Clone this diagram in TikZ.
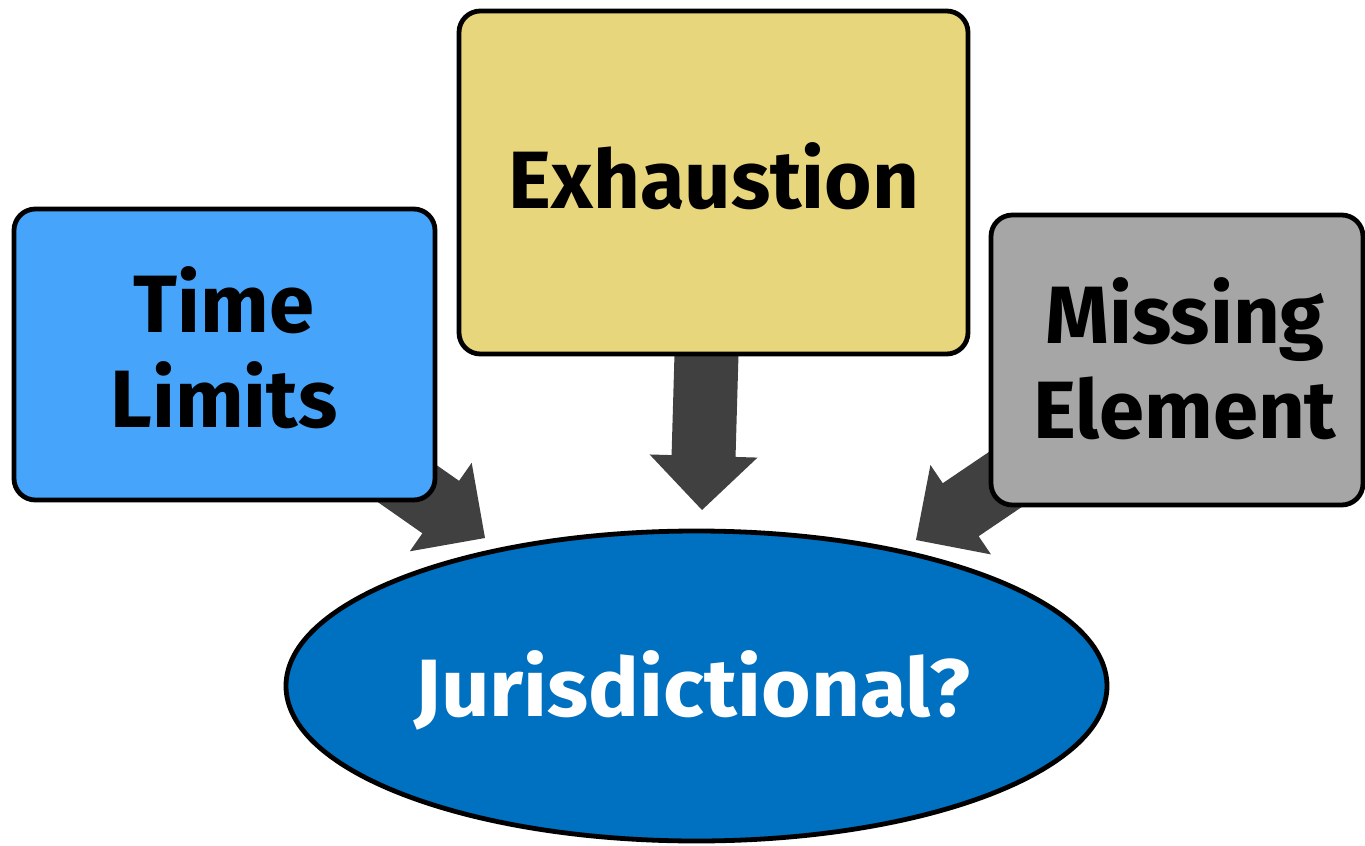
\documentclass[tikz,border=0pt]{standalone}
\usepackage{fontspec}
\setmainfont{Fira Sans}
\newfontfamily\widefont{Fira Sans}[FakeStretch=1.045]
\usetikzlibrary{calc,shapes.geometric}
\definecolor{tlblue}{HTML}{46A4FA}
\definecolor{exyellow}{HTML}{E8D67D}
\definecolor{megray}{HTML}{A6A6A6}
\definecolor{jublue}{HTML}{0070C0}
\definecolor{arrowgray}{HTML}{404040}
\newcommand\blockarrow[2]{%
  \path ($(#2)!40.5pt!(#1)$) coordinate (hb);
  \fill[arrowgray] ($(#1)!24pt!90:(#2)$) -- ($(hb)!24pt!90:(#2)$) -- ($(hb)!40.5pt!90:(#2)$)
    -- (#2) -- ($(hb)!40.5pt!-90:(#2)$) -- ($(hb)!24pt!-90:(#2)$) -- ($(#1)!24pt!-90:(#2)$) -- cycle;
}
\begin{document}
\begin{tikzpicture}[x=0.75pt,y=-0.75pt,
  box/.style={draw=black, line width=3.6pt, rounded corners=16pt, inner sep=0pt},
  lbl/.style={font=\bfseries\fontsize{61pt}{71.25pt}\selectfont, align=center, inner sep=0pt}]
\useasboundingbox (0,0) rectangle (1365,846);
% arrow ends
\coordinate (tailL) at (362,452);   \coordinate (tipL) at (485,538);
\coordinate (tailM) at (707.2,330); \coordinate (tipM) at (702,510);
\coordinate (tailR) at (1040,456);  \coordinate (tipR) at (916,540);
\blockarrow{tailL}{tipL}
\blockarrow{tailM}{tipM}
\blockarrow{tailR}{tipR}
% boxes
\node[box, fill=tlblue, minimum width=315.75pt, minimum height=218.25pt] (time) at (224.5,354.5) {};
\node[box, fill=exyellow, minimum width=381.75pt, minimum height=257.25pt] (exh) at (713.5,182.5) {};
\node[box, fill=megray, minimum width=279pt, minimum height=217.5pt] (miss) at (1177,360) {};
\node[ellipse, draw=black, line width=3.6pt, fill=jublue, minimum width=615.75pt, minimum height=232.5pt, inner sep=0pt] (jur) at (696.5,686) {};
% labels
\node[lbl, anchor=base] (tTime) at (224,427) {Time\\Limits};
\node[lbl, anchor=base] (tExh) at (714,208) {Exhaustion};
\node[lbl, anchor=base] (tMiss) at (1185,438) {Missing\\Element};
\node[lbl, anchor=base, text=white, font=\widefont\bfseries\fontsize{61pt}{71.25pt}\selectfont] (tJur) at (692.5,716) {Jurisdictional?};
\end{tikzpicture}
\end{document}
